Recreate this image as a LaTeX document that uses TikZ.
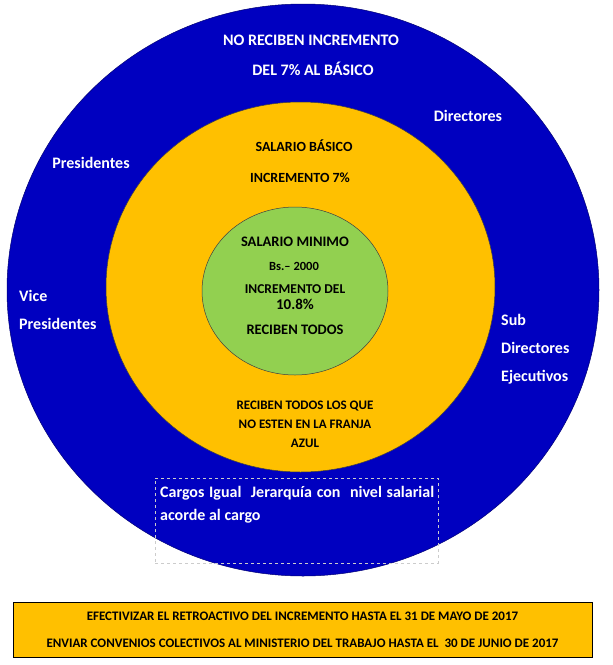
\documentclass[tikz,border=0pt]{standalone}
\usepackage{fontspec}
\setmainfont{Carlito}
\usetikzlibrary{shapes.geometric, positioning}
\definecolor{franjaazul}{RGB}{0,0,192}
\definecolor{franjanaranja}{RGB}{255,192,0}
\definecolor{franjaverde}{RGB}{146,208,80}
\tikzset{
  % anillos salariales
  ring/.style={ellipse, draw=black!75, line width=0.5pt, fill=#1, inner sep=0pt},
  ring/.default={franjaazul},
  % textos
  whitetxt/.style={text=white, font=\bfseries\fontsize{16}{28}\selectfont, inner sep=0pt, align=#1},
  whitetxt/.default={center},
  blacktxt/.style={text=black, font=\bfseries\fontsize{#1}{16}\selectfont, inner sep=0pt},
  blacktxt/.default={14},
  notebox/.style={rectangle, draw=black, line width=0.8pt, fill=franjanaranja, text centered, inner sep=0pt},
}

\begin{document}
\begin{tikzpicture}[x=1pt, y=-1pt]
    \useasboundingbox (0,0) rectangle (613,665);

    % Franjas
    \node[ring=franjaazul, draw=franjaazul!60!black, minimum width=592pt, minimum height=572pt] (azul) at (303,290) {};
    \node[ring=franjanaranja, minimum width=389pt, minimum height=370pt] (naranja) at (300.5,287) {};
    \node[ring=franjaverde, minimum width=186pt, minimum height=168pt] (verde) at (295,291) {};

    % Franja azul
    \node[whitetxt] (noreciben) at (311,40) {NO RECIBEN INCREMENTO};
    \node[whitetxt] (delbasico) at (313,69) {DEL 7\% AL BÁSICO};
    \node[whitetxt] (directores) at (468,116) {Directores};
    \node[whitetxt] (presidentes) at (91,163) {Presidentes};
    \node[whitetxt=left, anchor=base west] (vice) at (19,329.5) {Vice\\Presidentes};
    \node[whitetxt=left, anchor=base west] (subdir) at (501,381.5) {Sub\\Directores\\Ejecutivos};

    % Franja naranja
    \node[blacktxt] (basico) at (304,146) {SALARIO BÁSICO};
    \node[blacktxt] (incbasico) at (300,178) {INCREMENTO 7\%};
    \node[blacktxt=13, align=center, font=\bfseries\fontsize{13}{19}\selectfont] (todoslosque) at (305,424) {RECIBEN TODOS LOS QUE\\NO ESTEN EN LA FRANJA\\AZUL};

    % Franja verde
    \node[blacktxt=14.5] (minimo) at (295,242) {SALARIO MINIMO};
    \node[blacktxt=12.5] (monto) at (294,266) {Bs.– 2000};
    \node[blacktxt=13.5, align=center] (incminimo) at (295,297) {INCREMENTO DEL\\[0pt]{\fontsize{15}{16}\selectfont 10.8\%}};
    \node[blacktxt=14.5] (todos) at (295,330) {RECIBEN TODOS};

    % Cargos
    \node[rectangle, draw=gray!40, dashed, line width=0.6pt, minimum width=283pt, minimum height=85pt] (cargosbox) at (296.5,520.5) {};
    \node[anchor=north west, text=white, font=\bfseries\fontsize{16}{23}\selectfont, text width=274pt, align=justify, inner sep=0pt] (cargos) at (160,486) {Cargos Igual \ Jerarquía con \ nivel salarial acorde al cargo};

    % Plazos
    \node[notebox, minimum width=579pt, minimum height=55pt, align=center, font=\bfseries\fontsize{13}{27}\selectfont] (plazos) at (302.5,629.5) {EFECTIVIZAR EL RETROACTIVO DEL INCREMENTO HASTA EL 31 DE MAYO DE 2017\\ENVIAR CONVENIOS COLECTIVOS AL MINISTERIO DEL TRABAJO HASTA EL \ 30 DE JUNIO DE 2017};
  \end{tikzpicture}
\end{document}
